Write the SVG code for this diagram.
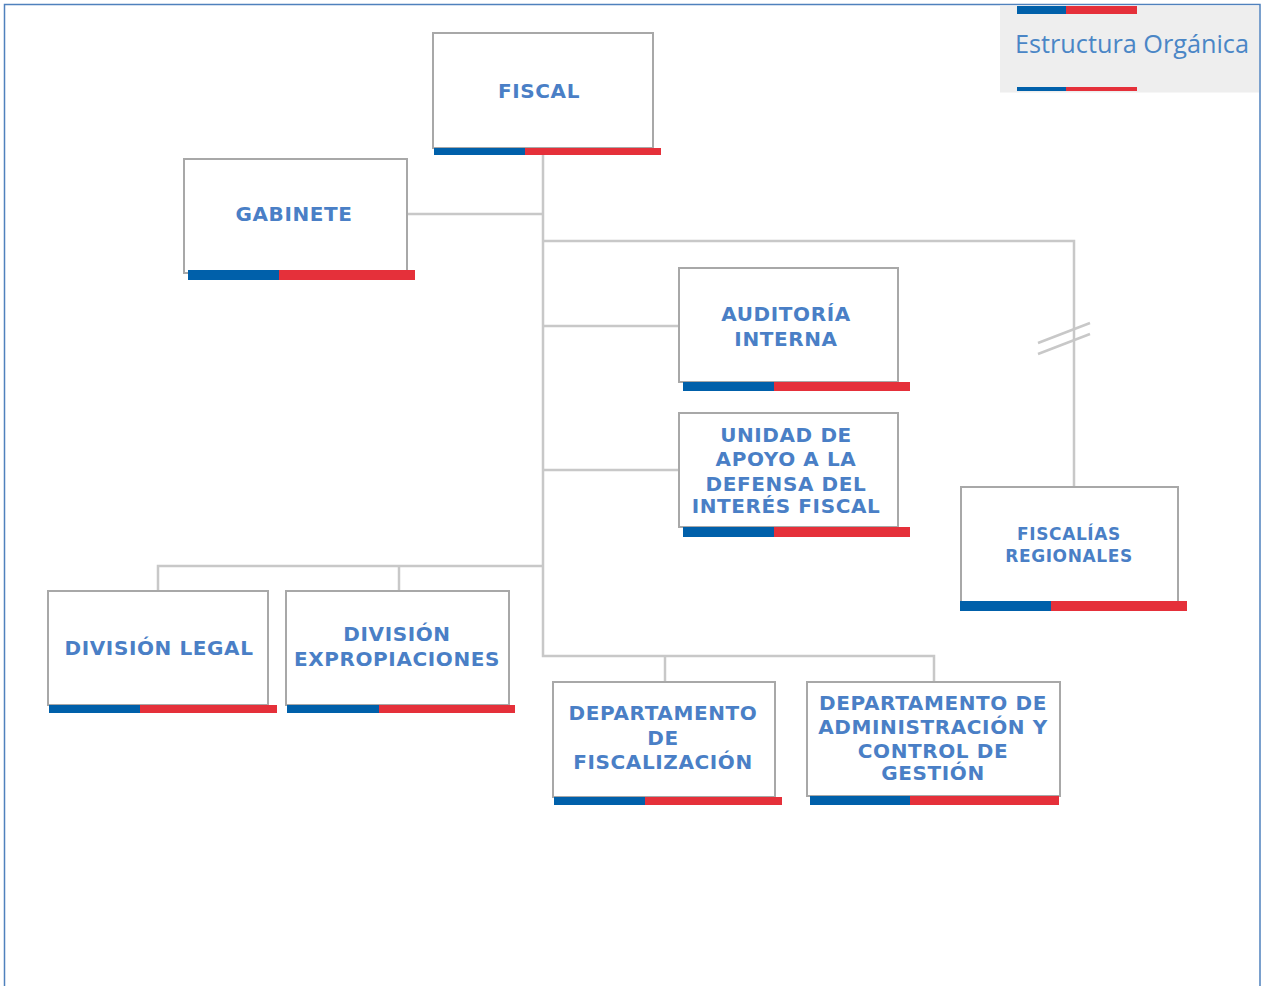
<svg xmlns="http://www.w3.org/2000/svg" width="1262" height="986" viewBox="0 0 1262 986">
<style>
.box{fill:#ffffff;stroke:#a8a8a8;stroke-width:2}
.blue{fill:#0060aa}
.red{fill:#e5303a}
.lbl{font-family:"DejaVu Sans",Verdana,sans-serif;font-weight:bold;font-size:20px;fill:#4a7fc6;text-anchor:middle;letter-spacing:0.6px}
.conn{fill:none;stroke:#c8c8c8;stroke-width:2.5}
</style>
<rect x="0" y="0" width="1262" height="986" fill="#ffffff"/>
<path d="M4.5 986 V4.5 H1260 V986" fill="none" stroke="#4f81bd" stroke-width="1.5"/>
<g id="legend">
<rect x="1000" y="5.5" width="259" height="87" fill="#eeeeee"/>
<rect x="1017" y="6" width="49" height="8" class="blue"/>
<rect x="1066" y="6" width="71" height="8" class="red"/>
<text x="1015" y="53" font-family="'Open Sans','DejaVu Sans',sans-serif" font-size="25" fill="#4a86c6" textLength="234" lengthAdjust="spacingAndGlyphs">Estructura Orgánica</text>
<rect x="1017" y="87" width="49" height="4" class="blue"/>
<rect x="1066" y="87" width="71" height="4" class="red"/>
</g>
<g id="connectors">
<path class="conn" d="M543 155 V656 H934 V682"/>
<path class="conn" d="M665 656 V682"/>
<path class="conn" d="M407 214 H543"/>
<path class="conn" d="M543 241 H1074 V487"/>
<path class="conn" d="M543 326 H679"/>
<path class="conn" d="M543 470 H679"/>
<path class="conn" d="M543 566 H158 V591"/>
<path class="conn" d="M399 566 V591"/>
<path class="conn" d="M1038 343 L1090 323 M1038 354 L1090 334" stroke-width="2"/>
</g>
<g id="fiscal">
<rect class="box" x="433" y="33" width="220" height="115"/>
<rect class="blue" x="434" y="148" width="91" height="7"/>
<rect class="red" x="525" y="148" width="136" height="7"/>
<text class="lbl" x="539" y="98">FISCAL</text>
</g>
<g id="gabinete">
<rect class="box" x="184" y="159" width="223" height="114"/>
<rect class="blue" x="188" y="270" width="91" height="10"/>
<rect class="red" x="279" y="270" width="136" height="10"/>
<text class="lbl" x="294" y="221">GABINETE</text>
</g>
<g id="auditoria">
<rect class="box" x="679" y="268" width="219" height="114"/>
<rect class="blue" x="683" y="382" width="91" height="9"/>
<rect class="red" x="774" y="382" width="136" height="9"/>
<text class="lbl" x="786" y="321">AUDITORÍA</text>
<text class="lbl" x="786" y="346">INTERNA</text>
</g>
<g id="unidad">
<rect class="box" x="679" y="413" width="219" height="114"/>
<rect class="blue" x="683" y="527" width="91" height="10"/>
<rect class="red" x="774" y="527" width="136" height="10"/>
<text class="lbl" x="786" y="442">UNIDAD DE</text>
<text class="lbl" x="786" y="466">APOYO A LA</text>
<text class="lbl" x="786" y="491">DEFENSA DEL</text>
<text class="lbl" x="786" y="513">INTERÉS  FISCAL</text>
</g>
<g id="fiscalias">
<rect class="box" x="961" y="487" width="217" height="115"/>
<rect class="blue" x="960" y="601" width="91" height="10"/>
<rect class="red" x="1051" y="601" width="136" height="10"/>
<text class="lbl" x="1069" y="540" style="font-size:17px">FISCALÍAS</text>
<text class="lbl" x="1069" y="562" style="font-size:17px">REGIONALES</text>
</g>
<g id="division-legal">
<rect class="box" x="48" y="591" width="220" height="114"/>
<rect class="blue" x="49" y="705" width="91" height="8"/>
<rect class="red" x="140" y="705" width="137" height="8"/>
<text class="lbl" x="159" y="655">DIVISIÓN LEGAL</text>
</g>
<g id="division-expropiaciones">
<rect class="box" x="286" y="591" width="223" height="114"/>
<rect class="blue" x="287" y="705" width="92" height="8"/>
<rect class="red" x="379" y="705" width="136" height="8"/>
<text class="lbl" x="397" y="641">DIVISIÓN</text>
<text class="lbl" x="397" y="666">EXPROPIACIONES</text>
</g>
<g id="depto-fiscalizacion">
<rect class="box" x="553" y="682" width="222" height="115"/>
<rect class="blue" x="554" y="797" width="91" height="8"/>
<rect class="red" x="645" y="797" width="137" height="8"/>
<text class="lbl" x="663" y="720">DEPARTAMENTO</text>
<text class="lbl" x="663" y="745">DE</text>
<text class="lbl" x="663" y="769">FISCALIZACIÓN</text>
</g>
<g id="depto-administracion">
<rect class="box" x="807" y="682" width="253" height="114"/>
<rect class="blue" x="810" y="796" width="100" height="9"/>
<rect class="red" x="910" y="796" width="149" height="9"/>
<text class="lbl" x="933" y="710">DEPARTAMENTO  DE</text>
<text class="lbl" x="933" y="734">ADMINISTRACIÓN Y</text>
<text class="lbl" x="933" y="758">CONTROL DE</text>
<text class="lbl" x="933" y="780">GESTIÓN</text>
</g>
</svg>
